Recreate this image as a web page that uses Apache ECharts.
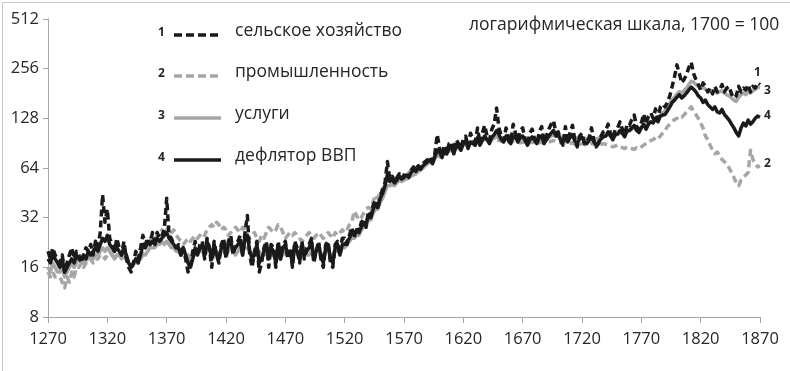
<!DOCTYPE html>
<html><head><meta charset="utf-8">
<script src="https://cdn.jsdelivr.net/npm/echarts@6/dist/echarts.min.js"></script>
<style>html,body{margin:0;padding:0;background:#fff}#c{width:790px;height:371px}</style>
</head><body><div id="c"></div>
<script>
// Years: 1270..1870 every 2 years
const startYear = 1270, stepYears = 2;
const xTicks = [1270,1320,1370,1420,1470,1520,1570,1620,1670,1720,1770,1820,1870];
const yTicks = [8,16,32,64,128,256,512];
const seriesNames = ['сельское хозяйство','промышленность','услуги','дефлятор ВВП'];
const titleText = 'логарифмическая шкала, 1700 = 100';

const agriculture = [
20,18,21,19,18, 17,19,15,17,19, 21,18,20,19,17, 19,21,20,22,19,
23,21,26,44,30, 36,24,22,20,24, 21,19,23,18,16, 15,17,20,18,21,
25,22,24,22,26, 23,26,24,25,27, 42,25,24,22,21, 22,19,21,18,15,
16,20,23,19,22, 23,18,24,21,16, 23,19,17,22,24, 18,23,25,19,22,
23,25,19,26,33, 19,16,20,23,15, 17,21,23,16,22, 21,16,23,18,22,
23,18,21,16,23, 21,17,23,18,21, 22,24,17,20,23, 18,16,22,23,17,
16,22,23,19,24, 24,22,25,28,24, 28,26,30,31,28, 35,33,38,41,36,
44,47,52,70,55, 57,52,56,59,55, 58,60,56,62,65, 62,66,64,68,70,
72,75,70,78,102, 84,76,88,78,90, 92,80,95,90,84, 96,100,86,104,96,
92,112,90,104,116, 100,94,110,118,148, 112,100,94,112,98, 92,118,104,94,108,
112,96,88,104,110, 96,90,106,114,92, 100,110,118,124,104, 106,94,88,114,92,
106,116,94,86,100, 104,90,92,98,112, 94,86,90,100,106, 108,118,104,96,110,
112,122,110,102,118, 116,126,134,114,110, 120,136,118,132,138, 128,146,126,150,156,
150,160,175,200,230, 270,240,210,220,235, 260,280,240,220,205, 190,210,200,185,195,
180,200,185,190,205, 185,195,200,180,170, 175,200,185,195,190, 205,185,200,195,210,
205];

const industry = [
15,14,15,14,14, 14,13,12,14,13, 15,14,16,16,17, 16,17,17,18,17,
18,18,19,19,18, 19,20,19,18,19, 19,20,21,19,17, 16,17,18,17,18,
20,21,22,24,23, 25,24,26,27,25, 27,28,26,27,25, 24,23,22,23,24,
23,24,25,24,25, 26,25,27,28,29, 28,30,29,27,28, 27,25,26,27,28,
27,26,28,27,25, 24,25,26,24,23, 25,24,26,28,27, 26,27,29,28,26,
24,25,26,25,26, 25,24,23,24,25, 26,25,24,25,26, 25,24,25,26,25,
24,26,25,26,27, 26,27,29,30,35, 33,31,32,34,36, 37,36,40,44,42,
46,48,50,58,56, 57,55,54,57,56, 58,57,60,62,63, 64,66,65,68,70,
72,74,72,76,80, 78,79,81,82,84, 85,84,86,87,88, 89,90,88,91,92,
92,91,93,94,93, 94,93,95,94,95, 94,93,92,93,92, 92,93,94,92,91,
92,91,90,91,92, 91,90,91,92,90, 91,92,93,94,93, 92,91,90,91,90,
90,91,89,88,89, 90,89,88,89,90, 89,87,88,89,90, 89,88,87,86,87,
88,86,85,84,86, 85,84,83,85,84, 86,88,90,92,94, 95,98,96,100,104,
108,114,118,122,126, 128,132,130,134,140, 145,150,142,135,128, 120,112,100,95,88,
82,78,80,76,72, 70,67,64,60,56, 52,50,54,56,58, 60,82,72,68,65,
66];

const services = [
16,15,17,16,15, 15,16,14,15,16, 17,16,17,18,17, 17,18,18,19,18,
19,19,20,21,20, 21,20,19,18,19, 19,18,19,18,17, 16,17,17,18,18,
19,19,20,21,21, 21,22,22,23,22, 23,22,21,21,20, 20,19,20,19,19,
18,19,19,20,20, 20,19,20,21,19, 20,19,19,20,20, 19,20,21,20,19,
20,21,20,21,21, 20,19,19,20,20, 19,19,20,20,19, 19,20,20,19,19,
20,19,19,20,20, 19,19,20,20,19, 19,20,19,20,20, 19,19,20,20,19,
19,20,20,20,21, 21,22,23,24,24, 25,25,27,28,28, 31,31,34,36,36,
40,42,46,50,50, 51,50,52,54,53, 54,55,56,57,58, 59,61,62,64,66,
68,70,68,73,76, 75,76,78,79,81, 82,81,84,85,86, 88,89,88,90,92,
92,93,92,94,95, 95,94,96,97,99, 98,97,96,97,96, 95,96,98,96,96,
97,96,95,96,97, 96,95,96,96,95, 96,98,100,101,100, 100,99,98,99,98,
99,100,98,97,98, 98,97,96,97,98, 97,96,97,98,99, 100,102,101,100,101,
102,104,105,104,106, 108,110,112,112,111, 113,116,116,119,121, 124,128,128,133,138,
142,150,158,166,172, 180,186,182,188,195, 205,215,212,205,200, 195,198,192,188,190,
185,190,182,186,188, 182,178,175,170,165, 162,172,178,182,178, 185,182,188,192,198,
196];

const deflator = [
18,17,19,18,17, 16,18,15,16,17, 18,17,19,18,18, 19,18,20,19,20,
21,20,22,24,23, 25,22,21,20,21, 20,19,21,19,17, 16,17,18,17,19,
22,21,23,22,23, 22,24,23,24,25, 26,24,23,22,21, 21,19,21,19,17,
16,18,21,19,21, 22,19,23,21,18, 22,19,18,21,22, 19,22,23,20,21,
22,23,19,24,25, 20,18,19,22,17, 18,20,22,18,21, 20,17,22,18,21,
22,19,20,17,22, 20,18,22,19,20, 21,23,18,20,22, 19,17,21,22,18,
17,21,22,19,22, 22,23,24,26,25, 27,26,28,30,29, 33,32,36,39,37,
42,45,50,58,53, 55,52,54,57,55, 56,58,57,60,62, 61,64,63,66,68,
70,72,68,75,82, 80,74,82,78,84, 86,78,88,86,82, 90,94,84,92,90,
88,98,88,94,100, 95,90,98,102,108, 102,95,92,100,94, 90,100,98,92,98,
100,94,88,95,99, 94,90,98,100,90, 95,100,104,108,100, 101,95,92,100,92,
98,102,93,90,96, 98,92,90,94,98, 92,88,92,96,99, 100,106,100,95,102,
103,108,104,99,108, 108,112,116,108,105, 112,118,110,118,122, 120,128,122,132,134,
135,142,150,160,165, 172,178,170,175,182, 190,198,192,185,175, 170,160,165,155,150,
145,150,140,138,145, 135,130,125,118,112, 105,100,112,120,115, 125,118,122,128,132,
130];

function pairs(arr){ return arr.map((v,i)=>[startYear + i*stepYears, v]); }

const BLACK = '#1a1a1a', GREY = '#a6a6a6', AXIS = '#a6a6a6', TXT = '#262626';
const FONT = 'Open Sans';

const chart = echarts.init(document.getElementById('c'), null, {renderer:'canvas'});

const legendRows = [
  {n:'1', name:seriesNames[0], color:BLACK, dash:true, y:35},
  {n:'2', name:seriesNames[1], color:GREY, dash:true, y:76},
  {n:'3', name:seriesNames[2], color:GREY, dash:false, y:118},
  {n:'4', name:seriesNames[3], color:BLACK, dash:false, y:160}
];
const graphics = [
  {type:'rect', left:0, top:0, shape:{x:0.5,y:0.5,width:789,height:370}, style:{fill:'none', stroke:'#c8c8c8', lineWidth:1}, silent:true},
  {type:'text', x:469, y:16, style:{text:titleText, font:'17.5px "'+FONT+'"', fill:TXT}}
];
legendRows.forEach(r=>{
  graphics.push({type:'text', x:158, y:r.y-8, style:{text:r.n, font:'bold 12px "'+FONT+'"', fill:TXT}});
  graphics.push({type:'line', shape:{x1:174,y1:r.y,x2:221,y2:r.y}, style:{stroke:r.color, lineWidth:3.5, lineDash:r.dash?[8,4]:null}});
  graphics.push({type:'text', x:235, y:r.y-13, style:{text:r.name, font:'17.5px "'+FONT+'"', fill:TXT}});
});
[['1',754,67],['3',764,85],['4',764,110],['2',764,158]].forEach(e=>{
  graphics.push({type:'text', x:e[1], y:e[2], style:{text:e[0], font:'bold 12px "'+FONT+'"', fill:TXT}});
});

function lineSeries(name, data, color, dashed, z){
  return {name, type:'line', data:pairs(data), showSymbol:false, symbol:'none', z,
    lineStyle:{color, width:3.5, type: dashed?[7,4]:'solid', cap:'butt', join:'round'},
    animation:false};
}

chart.setOption({
  animation:false,
  backgroundColor:'#fff',
  grid:{left:48, right:30, top:19, bottom:54, containLabel:false},
  xAxis:{type:'value', min:1270, max:1870, interval:50,
    axisLine:{show:true, lineStyle:{color:AXIS, width:1}},
    axisTick:{show:true, length:6, lineStyle:{color:AXIS}},
    axisLabel:{color:TXT, fontFamily:FONT, fontSize:16.5, margin:14, formatter:v=>String(v)},
    splitLine:{show:false}},
  yAxis:{type:'log', logBase:2, min:8, max:512,
    axisLine:{show:true, lineStyle:{color:AXIS, width:1}},
    axisTick:{show:true, length:5, lineStyle:{color:AXIS}},
    axisLabel:{color:TXT, fontFamily:FONT, fontSize:16.5, margin:9, formatter:v=>String(v)},
    splitLine:{show:false}},
  series:[
    lineSeries(seriesNames[1], industry, GREY, true, 2),
    lineSeries(seriesNames[2], services, GREY, false, 3),
    lineSeries(seriesNames[0], agriculture, BLACK, true, 4),
    lineSeries(seriesNames[3], deflator, BLACK, false, 5)
  ],
  graphic:graphics
});
</script></body></html>
